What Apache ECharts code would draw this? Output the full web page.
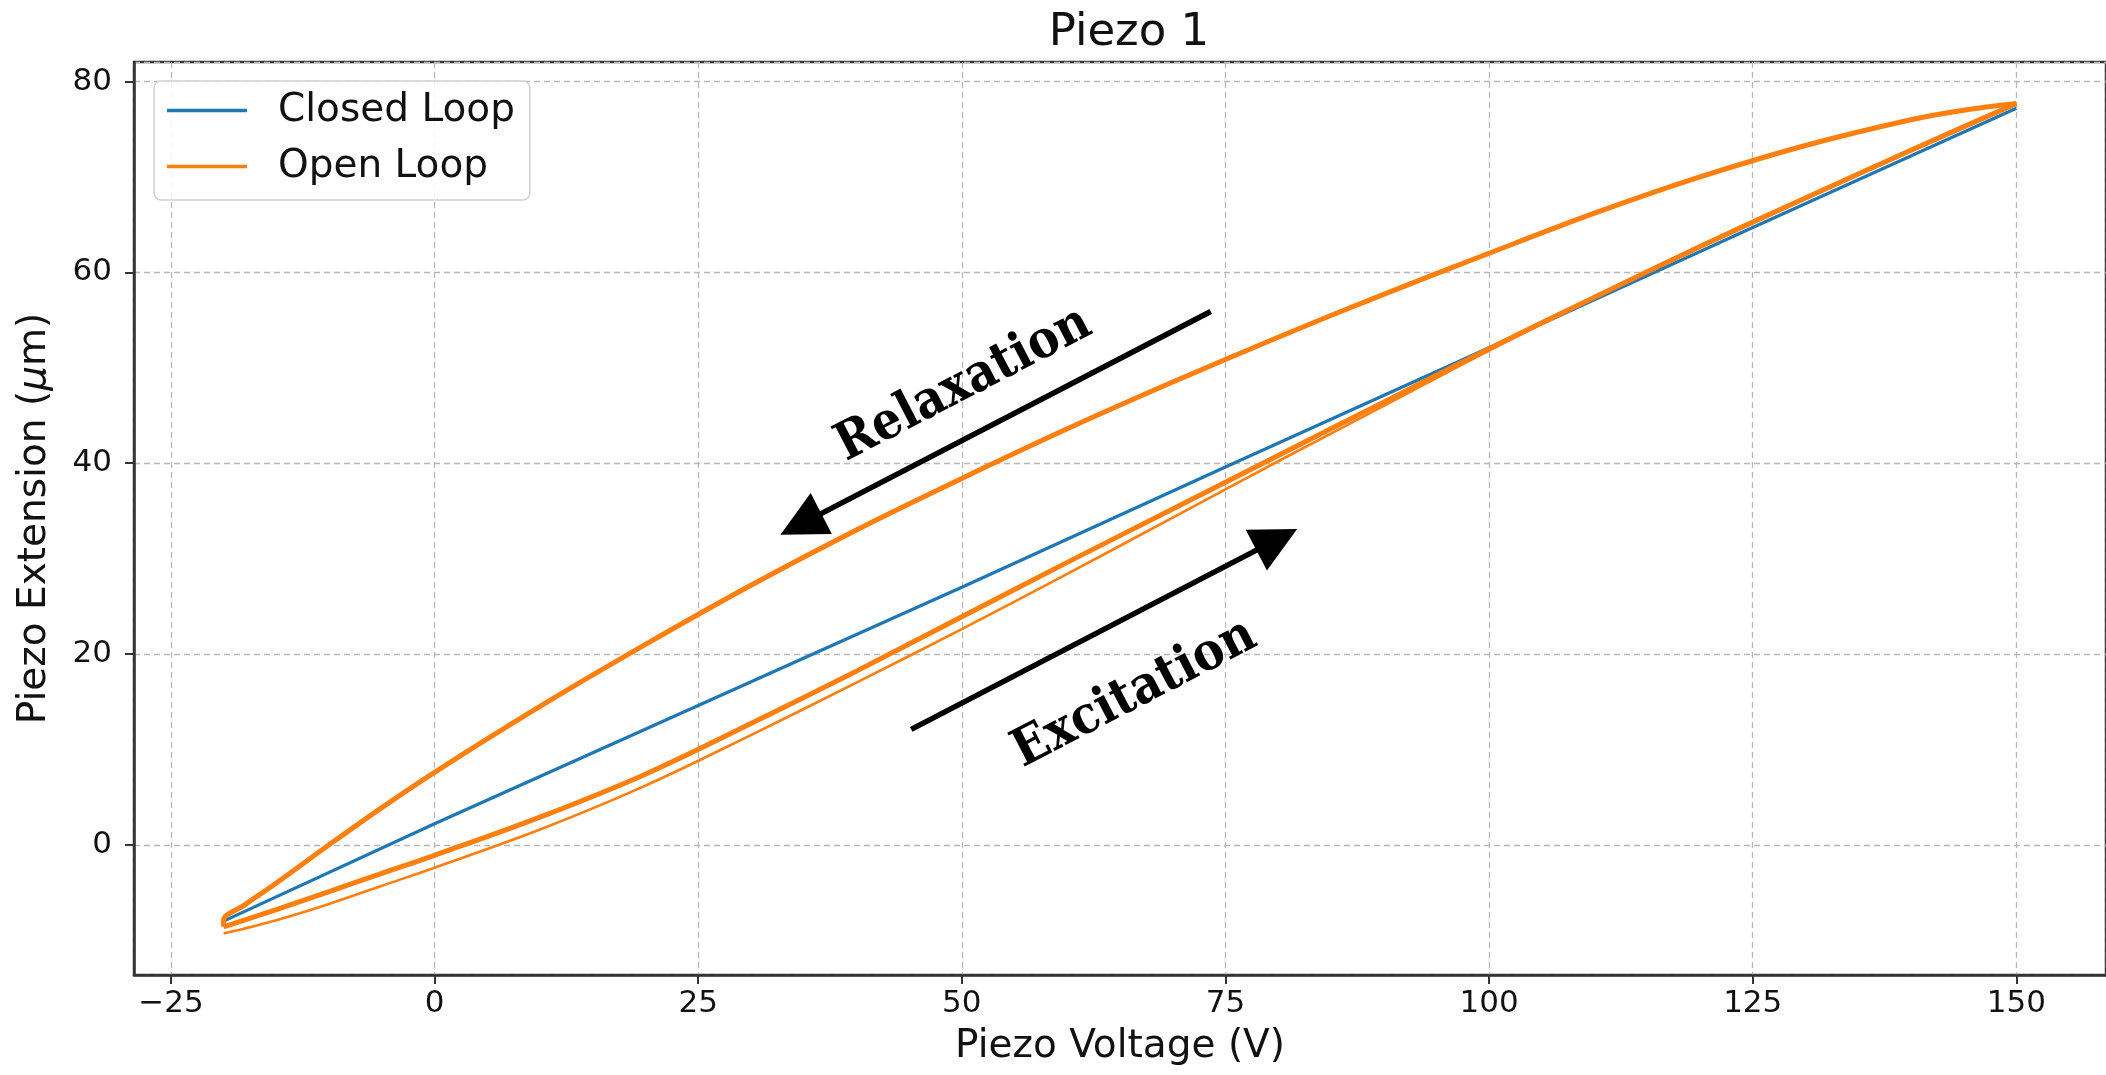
<!DOCTYPE html>
<html><head><meta charset="utf-8">
<script src="https://cdn.jsdelivr.net/npm/echarts@6/dist/echarts.min.js"></script>
<style>html,body{margin:0;padding:0;background:#fff}#c{width:2106px;height:1075px}</style>
</head><body><div id="c"></div>
<script>
// ---- data ----
const closedX = [-20, 0, 25, 50, 75, 100, 125, 150];
const closedY = [-8.0, 2.2, 14.6, 27.0, 39.6, 52.1, 64.7, 77.2];

// first excitation sweep of the open loop (thin lower curve)
const openRise1X = [-20, -15, -10, -5, 0, 10, 20, 30, 40, 50, 60, 70, 80, 90, 100, 110, 120, 130, 140, 150];
const openRise1Y = [-9.3, -7.9, -6.2, -4.3, -2.4, 1.6, 6.2, 11.5, 17.0, 22.6, 28.4, 34.3, 40.2, 46.0, 51.8, 57.3, 62.6, 67.7, 72.7, 77.6];

// relaxation sweep (upper curve), ending at the turning point
const openFallX = [150, 145, 140, 130, 120, 110, 100, 90, 80, 70, 60, 50, 40, 30, 20, 10, 0, -5, -10, -15, -18, -20, -20];
const openFallY = [77.7, 77.0, 76.0, 73.3, 70.0, 66.2, 62.0, 57.7, 53.2, 48.5, 43.6, 38.4, 33.0, 27.2, 21.0, 14.5, 7.6, 3.9, 0.0, -4.0, -6.3, -7.9, -8.6];

// repeated excitation sweeps (thick lower curve)
const openRise2X = [-20, -15, -10, -5, 0, 10, 20, 30, 40, 50, 60, 70, 80, 90, 100, 110, 120, 130, 140, 150];
const openRise2Y = [-8.6, -6.8, -4.9, -3.0, -1.1, 2.9, 7.4, 12.7, 18.2, 23.9, 29.6, 35.2, 40.8, 46.4, 52.0, 57.4, 62.7, 67.8, 72.8, 77.7];

const xTickStep = 25, yTickStep = 20;
const xRange = [-28.5, 158.5], yRange = [-13.65, 82.05];

// annotation anchors in data space: [tail, tip]
const relaxArrow = [[73.6, 55.9], [32.8, 32.5]];
const exciteArrow = [[45.2, 12.1], [81.8, 33.1]];
const relaxLabelAt = [50.2, 48.2];
const exciteLabelAt = [66.4, 15.8];

// ---- build ----
const zip = (xs, ys) => xs.map((x, i) => [x, ys[i]]);
const blue = '#1f77b4', orange = '#ff7f0e';
const FONT = 'DejaVu Sans';
const minus = v => String(v).replace('-', '\u2212');

const chart = echarts.init(document.getElementById('c'), null, {renderer: 'canvas'});
const axisCommon = {
  axisLine: {show: true, onZero: false, lineStyle: {color: '#333', width: 2.5}},
  axisTick: {show: true, inside: false, length: 9, lineStyle: {color: '#333', width: 2}},
  splitLine: {show: true, lineStyle: {color: '#b8b8b8', width: 1.3, type: [6, 4]}},
  axisLabel: {color: '#111', fontFamily: FONT, fontSize: 31, showMinLabel: false, showMaxLabel: false, formatter: minus}
};
const smoothK = 0.35;
chart.setOption({
  animation: false,
  backgroundColor: '#fff',
  title: {text: 'Piezo 1', left: 1124, textAlign: 'center', top: 6,
    textStyle: {fontFamily: FONT, fontSize: 45, fontWeight: 'normal', color: '#111'}},
  grid: {left: 134, top: 62, right: -9, bottom: 100, show: true, borderColor: '#333', borderWidth: 2.5, containLabel: false},
  legend: {
    left: 154, top: 81, orient: 'vertical',
    itemWidth: 80, itemHeight: 3.5, itemGap: 17,
    padding: [10, 15, 14, 13],
    backgroundColor: 'rgba(255,255,255,0.85)', borderColor: '#d0d0d0', borderWidth: 1.5, borderRadius: 7,
    textStyle: {fontFamily: FONT, fontSize: 39, color: '#111', padding: [0, 0, 0, 26]},
    data: [
      {name: 'Closed Loop', icon: 'rect', itemStyle: {color: blue}},
      {name: 'Open Loop', icon: 'rect', itemStyle: {color: orange}}
    ]
  },
  xAxis: Object.assign({}, axisCommon, {
    type: 'value', min: xRange[0], max: xRange[1], minInterval: xTickStep, maxInterval: xTickStep,
    name: 'Piezo Voltage (V)', nameLocation: 'middle', nameGap: 52,
    nameTextStyle: {fontFamily: FONT, fontSize: 39, color: '#111'},
    axisLabel: Object.assign({}, axisCommon.axisLabel, {margin: 13})
  }),
  yAxis: Object.assign({}, axisCommon, {
    type: 'value', min: yRange[0], max: yRange[1], minInterval: yTickStep, maxInterval: yTickStep,
    name: 'Piezo Extension ({i|μ}m)', nameLocation: 'middle', nameGap: 80,
    nameTextStyle: {fontFamily: FONT, fontSize: 39, color: '#111',
      rich: {i: {fontFamily: FONT, fontSize: 39, fontStyle: 'italic', color: '#111'}}},
    axisLabel: Object.assign({}, axisCommon.axisLabel, {margin: 22})
  }),
  series: [
    {name: 'Closed Loop', type: 'line', symbol: 'none', z: 2,
      lineStyle: {color: blue, width: 3.2}, itemStyle: {color: blue},
      data: zip(closedX, closedY)},
    {name: 'Open Loop', type: 'line', symbol: 'none', z: 3, smooth: smoothK,
      lineStyle: {color: orange, width: 2.6}, itemStyle: {color: orange},
      data: zip(openRise1X, openRise1Y)},
    {name: 'Open Loop', type: 'line', symbol: 'none', z: 3, smooth: smoothK,
      lineStyle: {color: orange, width: 5, join: 'round'}, itemStyle: {color: orange},
      data: zip(openFallX, openFallY)},
    {name: 'Open Loop', type: 'line', symbol: 'none', z: 3, smooth: smoothK,
      lineStyle: {color: orange, width: 5}, itemStyle: {color: orange},
      data: zip(openRise2X, openRise2Y)}
  ]
});

function arrowGraphics(a) {
  const p0 = chart.convertToPixel({gridIndex: 0}, a[0]);
  const p1 = chart.convertToPixel({gridIndex: 0}, a[1]);
  const dx = p1[0] - p0[0], dy = p1[1] - p0[1];
  const len = Math.hypot(dx, dy), ux = dx / len, uy = dy / len;
  const hl = 46, hw = 23;
  const bx = p1[0] - ux * hl, by = p1[1] - uy * hl;
  return [
    {type: 'line', shape: {x1: p0[0], y1: p0[1], x2: bx + ux * 4, y2: by + uy * 4},
      style: {stroke: '#000', lineWidth: 5.5}, z: 10},
    {type: 'polygon', shape: {points: [[p1[0], p1[1]], [bx - uy * hw, by + ux * hw], [bx + uy * hw, by - ux * hw]]},
      style: {fill: '#000'}, z: 10}
  ];
}
function angleOf(a) {
  const p0 = chart.convertToPixel({gridIndex: 0}, a[0]);
  const p1 = chart.convertToPixel({gridIndex: 0}, a[1]);
  let ang = Math.atan2(-(p1[1] - p0[1]), p1[0] - p0[0]);
  if (Math.abs(ang) > Math.PI / 2) ang += Math.PI;
  return ang;
}
function label(text, at, rot) {
  const p = chart.convertToPixel({gridIndex: 0}, at);
  return {type: 'text', x: p[0], y: p[1], rotation: rot, z: 10,
    style: {text: text, fontFamily: "'DejaVu Serif Condensed', 'DejaVu Serif'", fontWeight: 'bold', fontSize: 52, fill: '#000',
      align: 'center', verticalAlign: 'middle'}};
}
chart.setOption({
  graphic: [].concat(
    arrowGraphics(relaxArrow), arrowGraphics(exciteArrow),
    [label('Relaxation', relaxLabelAt, angleOf(relaxArrow)), label('Excitation', exciteLabelAt, angleOf(exciteArrow))]
  )
});
</script></body></html>
